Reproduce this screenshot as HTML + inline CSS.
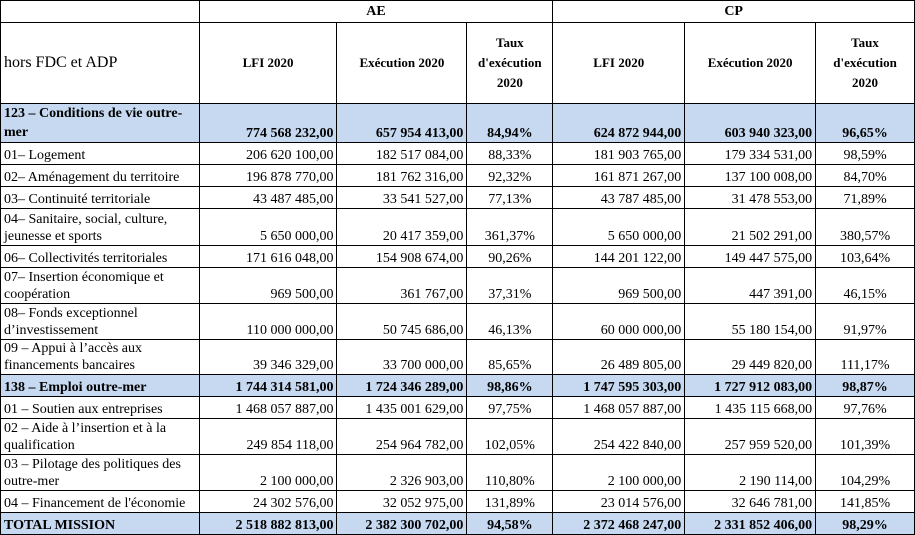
<!DOCTYPE html>
<html><head><meta charset="utf-8"><style>
body{margin:0;background:#fff;overflow:hidden;}
table{border-collapse:collapse;table-layout:fixed;font-family:"Liberation Serif",serif;font-size:14px;color:#000;position:absolute;left:0;top:0;}
td{border:1px solid #000;padding:0 3px;white-space:nowrap;overflow:hidden;vertical-align:bottom;text-align:right;line-height:17px;}
td.l{text-align:left;white-space:normal;padding-left:3px;}
td.c{text-align:center;}
tr.b td{background:#c6d9f1;font-weight:bold;}
tr.h td{font-weight:bold;text-align:center;vertical-align:middle;font-size:13px;line-height:20px;}
</style></head><body>
<table>
<colgroup><col style="width:199px"><col style="width:138px"><col style="width:130px"><col style="width:86px"><col style="width:132px"><col style="width:131px"><col style="width:99px"></colgroup>
<tr class="h" style="height:22px"><td></td><td colspan="3" style="font-size:14px">AE</td><td colspan="3" style="font-size:14px">CP</td></tr>
<tr class="h" style="height:81px"><td class="l" style="font-weight:normal;font-size:16px;text-align:left">hors FDC et ADP</td><td>LFI 2020</td><td>Exécution 2020</td><td>Taux<br>d'exécution<br>2020</td><td>LFI 2020</td><td>Exécution 2020</td><td>Taux<br>d'exécution<br>2020</td></tr>
<tr class="b" style="height:39px"><td class="l" style="line-height:19px">123 – Conditions de vie outre-mer</td><td>774 568 232,00</td><td>657 954 413,00</td><td class="c">84,94%</td><td>624 872 944,00</td><td>603 940 323,00</td><td class="c">96,65%</td></tr>
<tr style="height:22px"><td class="l">01– Logement</td><td>206 620 100,00</td><td>182 517 084,00</td><td class="c">88,33%</td><td>181 903 765,00</td><td>179 334 531,00</td><td class="c">98,59%</td></tr>
<tr style="height:22px"><td class="l">02– Aménagement du territoire</td><td>196 878 770,00</td><td>181 762 316,00</td><td class="c">92,32%</td><td>161 871 267,00</td><td>137 100 008,00</td><td class="c">84,70%</td></tr>
<tr style="height:22px"><td class="l">03– Continuité territoriale</td><td>43 487 485,00</td><td>33 541 527,00</td><td class="c">77,13%</td><td>43 787 485,00</td><td>31 478 553,00</td><td class="c">71,89%</td></tr>
<tr style="height:37px"><td class="l">04– Sanitaire, social, culture, jeunesse et sports</td><td>5 650 000,00</td><td>20 417 359,00</td><td class="c">361,37%</td><td>5 650 000,00</td><td>21 502 291,00</td><td class="c">380,57%</td></tr>
<tr style="height:22px"><td class="l">06– Collectivités territoriales</td><td>171 616 048,00</td><td>154 908 674,00</td><td class="c">90,26%</td><td>144 201 122,00</td><td>149 447 575,00</td><td class="c">103,64%</td></tr>
<tr style="height:36px"><td class="l">07– Insertion économique et coopération</td><td>969 500,00</td><td>361 767,00</td><td class="c">37,31%</td><td>969 500,00</td><td>447 391,00</td><td class="c">46,15%</td></tr>
<tr style="height:36px"><td class="l">08– Fonds exceptionnel d’investissement</td><td>110 000 000,00</td><td>50 745 686,00</td><td class="c">46,13%</td><td>60 000 000,00</td><td>55 180 154,00</td><td class="c">91,97%</td></tr>
<tr style="height:35px"><td class="l">09 – Appui à l’accès aux financements bancaires</td><td>39 346 329,00</td><td>33 700 000,00</td><td class="c">85,65%</td><td>26 489 805,00</td><td>29 449 820,00</td><td class="c">111,17%</td></tr>
<tr class="b" style="height:22px"><td class="l">138 – Emploi outre-mer</td><td>1 744 314 581,00</td><td>1 724 346 289,00</td><td class="c">98,86%</td><td>1 747 595 303,00</td><td>1 727 912 083,00</td><td class="c">98,87%</td></tr>
<tr style="height:22px"><td class="l">01 – Soutien aux entreprises</td><td>1 468 057 887,00</td><td>1 435 001 629,00</td><td class="c">97,75%</td><td>1 468 057 887,00</td><td>1 435 115 668,00</td><td class="c">97,76%</td></tr>
<tr style="height:36px"><td class="l">02 – Aide à l’insertion et à la qualification</td><td>249 854 118,00</td><td>254 964 782,00</td><td class="c">102,05%</td><td>254 422 840,00</td><td>257 959 520,00</td><td class="c">101,39%</td></tr>
<tr style="height:36px"><td class="l">03 – Pilotage des politiques des outre-mer</td><td>2 100 000,00</td><td>2 326 903,00</td><td class="c">110,80%</td><td>2 100 000,00</td><td>2 190 114,00</td><td class="c">104,29%</td></tr>
<tr style="height:22px"><td class="l">04 – Financement de l'économie</td><td>24 302 576,00</td><td>32 052 975,00</td><td class="c">131,89%</td><td>23 014 576,00</td><td>32 646 781,00</td><td class="c">141,85%</td></tr>
<tr class="b" style="height:22px"><td class="l">TOTAL MISSION</td><td>2 518 882 813,00</td><td>2 382 300 702,00</td><td class="c">94,58%</td><td>2 372 468 247,00</td><td>2 331 852 406,00</td><td class="c">98,29%</td></tr>
</table>
</body></html>
